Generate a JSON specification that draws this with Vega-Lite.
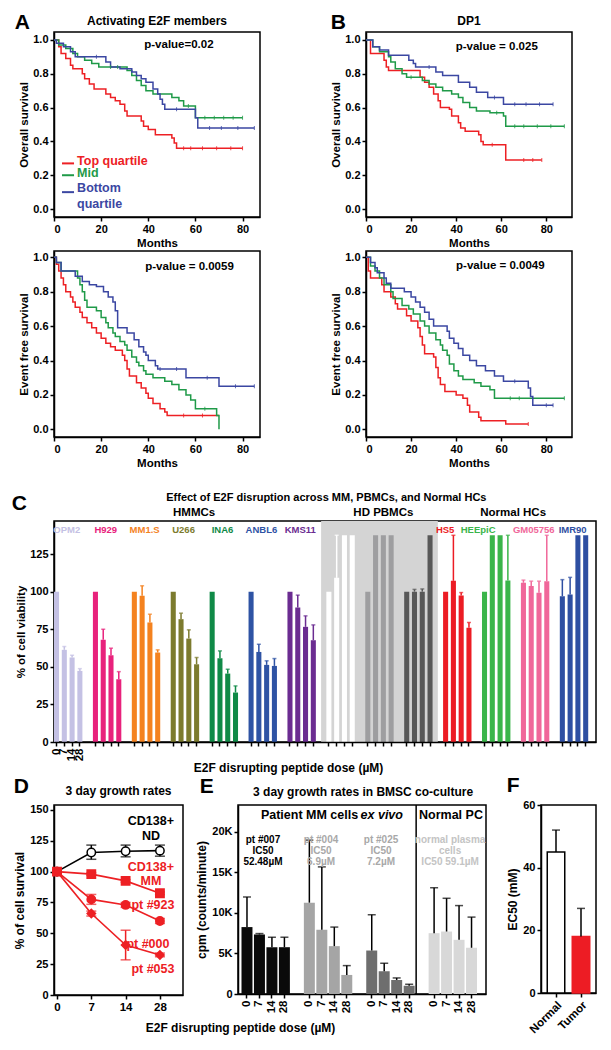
{
 "$schema": "https://vega.github.io/schema/vega-lite/v6.json",
 "padding": {"left": 10, "top": 11, "right": 5, "bottom": 2},
 "background": "white",
 "config": {
  "font": "Liberation Sans",
  "view": {"stroke": "#000", "strokeWidth": 1.5},
  "axis": {"grid": false, "labelOverlap": false, "domainColor": "#000", "domainWidth": 1.5, "tickColor": "#000", "tickWidth": 1.5, "tickSize": 4, "labelColor": "#000", "labelFontSize": 11, "labelFontWeight": "bold", "labelFont": "Liberation Sans", "titleColor": "#000", "titleFontSize": 11.5, "titleFontWeight": "bold", "titleFont": "Liberation Sans", "labelPadding": 2, "titlePadding": 3},
  "title": {"fontSize": 21, "fontWeight": "bold", "font": "Liberation Sans", "anchor": "start", "frame": "bounds", "offset": 0, "color": "#000"},
  "text": {"font": "Liberation Sans", "fontWeight": "bold", "fontSize": 11.5, "color": "#000"}
 },
 "datasets": {
  "km": [
   {"p":"A1","g":"T","t":0,"s":1},{"p":"A1","g":"T","t":2,"s":0.96},{"p":"A1","g":"T","t":3,"s":0.92},{"p":"A1","g":"T","t":5,"s":0.89},{"p":"A1","g":"T","t":7,"s":0.85},{"p":"A1","g":"T","t":8,"s":0.83},{"p":"A1","g":"T","t":12,"s":0.80},{"p":"A1","g":"T","t":13,"s":0.77},{"p":"A1","g":"T","t":15,"s":0.74},{"p":"A1","g":"T","t":17,"s":0.71},{"p":"A1","g":"T","t":22,"s":0.68},{"p":"A1","g":"T","t":24,"s":0.66},{"p":"A1","g":"T","t":26,"s":0.64},{"p":"A1","g":"T","t":28,"s":0.62},{"p":"A1","g":"T","t":30,"s":0.58},{"p":"A1","g":"T","t":31,"s":0.55},{"p":"A1","g":"T","t":37,"s":0.52},{"p":"A1","g":"T","t":38,"s":0.49},{"p":"A1","g":"T","t":40,"s":0.47},{"p":"A1","g":"T","t":43,"s":0.44},{"p":"A1","g":"T","t":50,"s":0.42},{"p":"A1","g":"T","t":51,"s":0.39},{"p":"A1","g":"T","t":52,"s":0.36},{"p":"A1","g":"T","t":80,"s":0.36},
   {"p":"A1","g":"M","t":0,"s":1},{"p":"A1","g":"M","t":2,"s":0.97},{"p":"A1","g":"M","t":5,"s":0.95},{"p":"A1","g":"M","t":8,"s":0.92},{"p":"A1","g":"M","t":10,"s":0.90},{"p":"A1","g":"M","t":13,"s":0.88},{"p":"A1","g":"M","t":16,"s":0.86},{"p":"A1","g":"M","t":19,"s":0.84},{"p":"A1","g":"M","t":31,"s":0.82},{"p":"A1","g":"M","t":33,"s":0.79},{"p":"A1","g":"M","t":35,"s":0.76},{"p":"A1","g":"M","t":37,"s":0.73},{"p":"A1","g":"M","t":39,"s":0.70},{"p":"A1","g":"M","t":42,"s":0.68},{"p":"A1","g":"M","t":50,"s":0.66},{"p":"A1","g":"M","t":53,"s":0.64},{"p":"A1","g":"M","t":55,"s":0.61},{"p":"A1","g":"M","t":60,"s":0.54},{"p":"A1","g":"M","t":80,"s":0.54},
   {"p":"A1","g":"B","t":0,"s":1},{"p":"A1","g":"B","t":1,"s":0.98},{"p":"A1","g":"B","t":4,"s":0.96},{"p":"A1","g":"B","t":7,"s":0.93},{"p":"A1","g":"B","t":9,"s":0.90},{"p":"A1","g":"B","t":22,"s":0.87},{"p":"A1","g":"B","t":24,"s":0.84},{"p":"A1","g":"B","t":28,"s":0.83},{"p":"A1","g":"B","t":33,"s":0.81},{"p":"A1","g":"B","t":35,"s":0.79},{"p":"A1","g":"B","t":37,"s":0.77},{"p":"A1","g":"B","t":39,"s":0.75},{"p":"A1","g":"B","t":42,"s":0.71},{"p":"A1","g":"B","t":44,"s":0.68},{"p":"A1","g":"B","t":45,"s":0.65},{"p":"A1","g":"B","t":46,"s":0.62},{"p":"A1","g":"B","t":47,"s":0.59},{"p":"A1","g":"B","t":59,"s":0.59},{"p":"A1","g":"B","t":60,"s":0.54},{"p":"A1","g":"B","t":61,"s":0.48},{"p":"A1","g":"B","t":85,"s":0.48},
   {"p":"A2","g":"T","t":0,"s":1},{"p":"A2","g":"T","t":1,"s":0.96},{"p":"A2","g":"T","t":2,"s":0.92},{"p":"A2","g":"T","t":3,"s":0.88},{"p":"A2","g":"T","t":4,"s":0.84},{"p":"A2","g":"T","t":5,"s":0.80},{"p":"A2","g":"T","t":7,"s":0.77},{"p":"A2","g":"T","t":8,"s":0.74},{"p":"A2","g":"T","t":9,"s":0.71},{"p":"A2","g":"T","t":11,"s":0.68},{"p":"A2","g":"T","t":12,"s":0.65},{"p":"A2","g":"T","t":14,"s":0.62},{"p":"A2","g":"T","t":16,"s":0.59},{"p":"A2","g":"T","t":18,"s":0.56},{"p":"A2","g":"T","t":20,"s":0.53},{"p":"A2","g":"T","t":22,"s":0.50},{"p":"A2","g":"T","t":24,"s":0.48},{"p":"A2","g":"T","t":26,"s":0.46},{"p":"A2","g":"T","t":29,"s":0.43},{"p":"A2","g":"T","t":30,"s":0.40},{"p":"A2","g":"T","t":31,"s":0.35},{"p":"A2","g":"T","t":32,"s":0.31},{"p":"A2","g":"T","t":35,"s":0.27},{"p":"A2","g":"T","t":37,"s":0.24},{"p":"A2","g":"T","t":39,"s":0.21},{"p":"A2","g":"T","t":40,"s":0.18},{"p":"A2","g":"T","t":42,"s":0.15},{"p":"A2","g":"T","t":45,"s":0.12},{"p":"A2","g":"T","t":47,"s":0.10},{"p":"A2","g":"T","t":48,"s":0.08},{"p":"A2","g":"T","t":70,"s":0.08},
   {"p":"A2","g":"M","t":0,"s":1},{"p":"A2","g":"M","t":1,"s":0.97},{"p":"A2","g":"M","t":3,"s":0.92},{"p":"A2","g":"M","t":10,"s":0.88},{"p":"A2","g":"M","t":11,"s":0.84},{"p":"A2","g":"M","t":12,"s":0.80},{"p":"A2","g":"M","t":13,"s":0.75},{"p":"A2","g":"M","t":14,"s":0.71},{"p":"A2","g":"M","t":18,"s":0.69},{"p":"A2","g":"M","t":20,"s":0.65},{"p":"A2","g":"M","t":22,"s":0.62},{"p":"A2","g":"M","t":23,"s":0.59},{"p":"A2","g":"M","t":25,"s":0.56},{"p":"A2","g":"M","t":26,"s":0.54},{"p":"A2","g":"M","t":28,"s":0.51},{"p":"A2","g":"M","t":30,"s":0.49},{"p":"A2","g":"M","t":31,"s":0.46},{"p":"A2","g":"M","t":33,"s":0.42},{"p":"A2","g":"M","t":35,"s":0.39},{"p":"A2","g":"M","t":36,"s":0.37},{"p":"A2","g":"M","t":38,"s":0.34},{"p":"A2","g":"M","t":39,"s":0.32},{"p":"A2","g":"M","t":42,"s":0.30},{"p":"A2","g":"M","t":47,"s":0.28},{"p":"A2","g":"M","t":50,"s":0.26},{"p":"A2","g":"M","t":53,"s":0.23},{"p":"A2","g":"M","t":56,"s":0.20},{"p":"A2","g":"M","t":58,"s":0.17},{"p":"A2","g":"M","t":60,"s":0.12},{"p":"A2","g":"M","t":69,"s":0.08},{"p":"A2","g":"M","t":70,"s":0.0},
   {"p":"A2","g":"B","t":0,"s":1},{"p":"A2","g":"B","t":1,"s":0.97},{"p":"A2","g":"B","t":3,"s":0.92},{"p":"A2","g":"B","t":9,"s":0.89},{"p":"A2","g":"B","t":12,"s":0.86},{"p":"A2","g":"B","t":15,"s":0.84},{"p":"A2","g":"B","t":18,"s":0.83},{"p":"A2","g":"B","t":21,"s":0.80},{"p":"A2","g":"B","t":23,"s":0.77},{"p":"A2","g":"B","t":25,"s":0.74},{"p":"A2","g":"B","t":26,"s":0.69},{"p":"A2","g":"B","t":27,"s":0.59},{"p":"A2","g":"B","t":31,"s":0.56},{"p":"A2","g":"B","t":34,"s":0.52},{"p":"A2","g":"B","t":36,"s":0.48},{"p":"A2","g":"B","t":38,"s":0.45},{"p":"A2","g":"B","t":39,"s":0.43},{"p":"A2","g":"B","t":40,"s":0.40},{"p":"A2","g":"B","t":43,"s":0.37},{"p":"A2","g":"B","t":44,"s":0.35},{"p":"A2","g":"B","t":56,"s":0.30},{"p":"A2","g":"B","t":70,"s":0.25},{"p":"A2","g":"B","t":85,"s":0.25},
   {"p":"B1","g":"T","t":0,"s":1},{"p":"B1","g":"T","t":2,"s":0.92},{"p":"B1","g":"T","t":8,"s":0.88},{"p":"B1","g":"T","t":9,"s":0.84},{"p":"B1","g":"T","t":10,"s":0.82},{"p":"B1","g":"T","t":24,"s":0.78},{"p":"B1","g":"T","t":26,"s":0.75},{"p":"B1","g":"T","t":28,"s":0.72},{"p":"B1","g":"T","t":30,"s":0.68},{"p":"B1","g":"T","t":32,"s":0.64},{"p":"B1","g":"T","t":33,"s":0.60},{"p":"B1","g":"T","t":37,"s":0.59},{"p":"B1","g":"T","t":38,"s":0.55},{"p":"B1","g":"T","t":41,"s":0.51},{"p":"B1","g":"T","t":42,"s":0.48},{"p":"B1","g":"T","t":44,"s":0.46},{"p":"B1","g":"T","t":50,"s":0.44},{"p":"B1","g":"T","t":51,"s":0.40},{"p":"B1","g":"T","t":52,"s":0.38},{"p":"B1","g":"T","t":62,"s":0.29},{"p":"B1","g":"T","t":78,"s":0.29},
   {"p":"B1","g":"M","t":0,"s":1},{"p":"B1","g":"M","t":3,"s":0.96},{"p":"B1","g":"M","t":6,"s":0.93},{"p":"B1","g":"M","t":10,"s":0.90},{"p":"B1","g":"M","t":11,"s":0.87},{"p":"B1","g":"M","t":13,"s":0.83},{"p":"B1","g":"M","t":16,"s":0.80},{"p":"B1","g":"M","t":18,"s":0.78},{"p":"B1","g":"M","t":25,"s":0.76},{"p":"B1","g":"M","t":28,"s":0.74},{"p":"B1","g":"M","t":31,"s":0.72},{"p":"B1","g":"M","t":34,"s":0.70},{"p":"B1","g":"M","t":38,"s":0.68},{"p":"B1","g":"M","t":41,"s":0.66},{"p":"B1","g":"M","t":43,"s":0.63},{"p":"B1","g":"M","t":46,"s":0.60},{"p":"B1","g":"M","t":49,"s":0.58},{"p":"B1","g":"M","t":55,"s":0.57},{"p":"B1","g":"M","t":61,"s":0.55},{"p":"B1","g":"M","t":62,"s":0.49},{"p":"B1","g":"M","t":88,"s":0.49},
   {"p":"B1","g":"B","t":0,"s":1},{"p":"B1","g":"B","t":3,"s":0.96},{"p":"B1","g":"B","t":6,"s":0.94},{"p":"B1","g":"B","t":10,"s":0.91},{"p":"B1","g":"B","t":19,"s":0.88},{"p":"B1","g":"B","t":21,"s":0.86},{"p":"B1","g":"B","t":22,"s":0.84},{"p":"B1","g":"B","t":31,"s":0.81},{"p":"B1","g":"B","t":34,"s":0.79},{"p":"B1","g":"B","t":41,"s":0.75},{"p":"B1","g":"B","t":46,"s":0.72},{"p":"B1","g":"B","t":49,"s":0.69},{"p":"B1","g":"B","t":54,"s":0.66},{"p":"B1","g":"B","t":61,"s":0.62},{"p":"B1","g":"B","t":83,"s":0.62},
   {"p":"B2","g":"T","t":0,"s":1},{"p":"B2","g":"T","t":1,"s":0.92},{"p":"B2","g":"T","t":2,"s":0.88},{"p":"B2","g":"T","t":7,"s":0.84},{"p":"B2","g":"T","t":8,"s":0.80},{"p":"B2","g":"T","t":11,"s":0.77},{"p":"B2","g":"T","t":13,"s":0.73},{"p":"B2","g":"T","t":14,"s":0.70},{"p":"B2","g":"T","t":18,"s":0.66},{"p":"B2","g":"T","t":20,"s":0.63},{"p":"B2","g":"T","t":23,"s":0.59},{"p":"B2","g":"T","t":24,"s":0.54},{"p":"B2","g":"T","t":25,"s":0.49},{"p":"B2","g":"T","t":26,"s":0.44},{"p":"B2","g":"T","t":30,"s":0.42},{"p":"B2","g":"T","t":31,"s":0.36},{"p":"B2","g":"T","t":32,"s":0.30},{"p":"B2","g":"T","t":33,"s":0.26},{"p":"B2","g":"T","t":35,"s":0.22},{"p":"B2","g":"T","t":40,"s":0.20},{"p":"B2","g":"T","t":43,"s":0.18},{"p":"B2","g":"T","t":45,"s":0.14},{"p":"B2","g":"T","t":46,"s":0.10},{"p":"B2","g":"T","t":50,"s":0.07},{"p":"B2","g":"T","t":51,"s":0.05},{"p":"B2","g":"T","t":62,"s":0.03},{"p":"B2","g":"T","t":72,"s":0.03},
   {"p":"B2","g":"M","t":0,"s":1},{"p":"B2","g":"M","t":2,"s":0.95},{"p":"B2","g":"M","t":4,"s":0.92},{"p":"B2","g":"M","t":6,"s":0.88},{"p":"B2","g":"M","t":8,"s":0.84},{"p":"B2","g":"M","t":11,"s":0.80},{"p":"B2","g":"M","t":12,"s":0.76},{"p":"B2","g":"M","t":16,"s":0.72},{"p":"B2","g":"M","t":19,"s":0.70},{"p":"B2","g":"M","t":21,"s":0.67},{"p":"B2","g":"M","t":24,"s":0.63},{"p":"B2","g":"M","t":26,"s":0.60},{"p":"B2","g":"M","t":28,"s":0.56},{"p":"B2","g":"M","t":31,"s":0.52},{"p":"B2","g":"M","t":33,"s":0.49},{"p":"B2","g":"M","t":34,"s":0.46},{"p":"B2","g":"M","t":36,"s":0.43},{"p":"B2","g":"M","t":37,"s":0.38},{"p":"B2","g":"M","t":39,"s":0.34},{"p":"B2","g":"M","t":41,"s":0.31},{"p":"B2","g":"M","t":43,"s":0.29},{"p":"B2","g":"M","t":48,"s":0.27},{"p":"B2","g":"M","t":51,"s":0.25},{"p":"B2","g":"M","t":55,"s":0.23},{"p":"B2","g":"M","t":57,"s":0.18},{"p":"B2","g":"M","t":88,"s":0.18},
   {"p":"B2","g":"B","t":0,"s":1},{"p":"B2","g":"B","t":2,"s":0.97},{"p":"B2","g":"B","t":4,"s":0.94},{"p":"B2","g":"B","t":5,"s":0.91},{"p":"B2","g":"B","t":8,"s":0.88},{"p":"B2","g":"B","t":9,"s":0.85},{"p":"B2","g":"B","t":11,"s":0.82},{"p":"B2","g":"B","t":17,"s":0.80},{"p":"B2","g":"B","t":20,"s":0.77},{"p":"B2","g":"B","t":22,"s":0.74},{"p":"B2","g":"B","t":24,"s":0.71},{"p":"B2","g":"B","t":26,"s":0.68},{"p":"B2","g":"B","t":28,"s":0.64},{"p":"B2","g":"B","t":30,"s":0.60},{"p":"B2","g":"B","t":36,"s":0.57},{"p":"B2","g":"B","t":37,"s":0.53},{"p":"B2","g":"B","t":39,"s":0.50},{"p":"B2","g":"B","t":41,"s":0.47},{"p":"B2","g":"B","t":43,"s":0.43},{"p":"B2","g":"B","t":46,"s":0.40},{"p":"B2","g":"B","t":49,"s":0.37},{"p":"B2","g":"B","t":53,"s":0.34},{"p":"B2","g":"B","t":57,"s":0.31},{"p":"B2","g":"B","t":61,"s":0.28},{"p":"B2","g":"B","t":72,"s":0.24},{"p":"B2","g":"B","t":73,"s":0.19},{"p":"B2","g":"B","t":74,"s":0.14},{"p":"B2","g":"B","t":83,"s":0.14}
  ],
  "cens": [
   {"p":"A1","g":"T","t":55,"s":0.36},{"p":"A1","g":"T","t":58,"s":0.36},{"p":"A1","g":"T","t":63,"s":0.36},{"p":"A1","g":"T","t":69,"s":0.36},{"p":"A1","g":"T","t":75,"s":0.36},{"p":"A1","g":"T","t":80,"s":0.36},
   {"p":"A1","g":"M","t":24,"s":0.84},{"p":"A1","g":"M","t":27,"s":0.84},{"p":"A1","g":"M","t":57,"s":0.61},{"p":"A1","g":"M","t":64,"s":0.54},{"p":"A1","g":"M","t":68,"s":0.54},{"p":"A1","g":"M","t":72,"s":0.54},{"p":"A1","g":"M","t":76,"s":0.54},{"p":"A1","g":"M","t":80,"s":0.54},
   {"p":"A1","g":"B","t":18,"s":0.90},{"p":"A1","g":"B","t":52,"s":0.59},{"p":"A1","g":"B","t":66,"s":0.48},{"p":"A1","g":"B","t":71,"s":0.48},{"p":"A1","g":"B","t":78,"s":0.48},{"p":"A1","g":"B","t":85,"s":0.48},
   {"p":"A2","g":"T","t":55,"s":0.08},{"p":"A2","g":"T","t":63,"s":0.08},
   {"p":"A2","g":"M","t":64,"s":0.12},
   {"p":"A2","g":"B","t":45,"s":0.35},{"p":"A2","g":"B","t":52,"s":0.35},{"p":"A2","g":"B","t":65,"s":0.30},{"p":"A2","g":"B","t":77,"s":0.25},{"p":"A2","g":"B","t":85,"s":0.25},
   {"p":"B1","g":"T","t":56,"s":0.38},{"p":"B1","g":"T","t":70,"s":0.29},{"p":"B1","g":"T","t":74,"s":0.29},{"p":"B1","g":"T","t":78,"s":0.29},
   {"p":"B1","g":"M","t":20,"s":0.78},{"p":"B1","g":"M","t":58,"s":0.57},{"p":"B1","g":"M","t":66,"s":0.49},{"p":"B1","g":"M","t":70,"s":0.49},{"p":"B1","g":"M","t":76,"s":0.49},{"p":"B1","g":"M","t":82,"s":0.49},{"p":"B1","g":"M","t":88,"s":0.49},
   {"p":"B1","g":"B","t":28,"s":0.84},{"p":"B1","g":"B","t":57,"s":0.66},{"p":"B1","g":"B","t":66,"s":0.62},{"p":"B1","g":"B","t":71,"s":0.62},{"p":"B1","g":"B","t":77,"s":0.62},{"p":"B1","g":"B","t":83,"s":0.62},
   {"p":"B2","g":"T","t":72,"s":0.03},
   {"p":"B2","g":"M","t":64,"s":0.18},{"p":"B2","g":"M","t":68,"s":0.18},{"p":"B2","g":"M","t":88,"s":0.18},
   {"p":"B2","g":"B","t":66,"s":0.28},{"p":"B2","g":"B","t":80,"s":0.14},{"p":"B2","g":"B","t":83,"s":0.14}
  ],
  "cbars": [
   {"slot":"OPM2|0","g":"OPM2","v":100,"hi":null},{"slot":"OPM2|7","g":"OPM2","v":61.3,"hi":63.5},{"slot":"OPM2|14","g":"OPM2","v":56.2,"hi":57.7},{"slot":"OPM2|28","g":"OPM2","v":47.3,"hi":48.8},
   {"slot":"H929|0","g":"H929","v":100,"hi":null},{"slot":"H929|7","g":"H929","v":68,"hi":75},{"slot":"H929|14","g":"H929","v":57.7,"hi":62.4},{"slot":"H929|28","g":"H929","v":41.7,"hi":46.8},
   {"slot":"MM1.S|0","g":"MM1.S","v":100,"hi":null},{"slot":"MM1.S|7","g":"MM1.S","v":97.2,"hi":103.9},{"slot":"MM1.S|14","g":"MM1.S","v":79.5,"hi":85},{"slot":"MM1.S|28","g":"MM1.S","v":59.5,"hi":61.3},
   {"slot":"U266|0","g":"U266","v":100,"hi":null},{"slot":"U266|7","g":"U266","v":81.7,"hi":85.7},{"slot":"U266|14","g":"U266","v":68.8,"hi":74.6},{"slot":"U266|28","g":"U266","v":51.7,"hi":56.2},
   {"slot":"INA6|0","g":"INA6","v":100,"hi":null},{"slot":"INA6|7","g":"INA6","v":55.7,"hi":60.6},{"slot":"INA6|14","g":"INA6","v":45.5,"hi":48.4},{"slot":"INA6|28","g":"INA6","v":32.9,"hi":37.3},
   {"slot":"ANBL6|0","g":"ANBL6","v":100,"hi":null},{"slot":"ANBL6|7","g":"ANBL6","v":59.9,"hi":65},{"slot":"ANBL6|14","g":"ANBL6","v":51.3,"hi":54},{"slot":"ANBL6|28","g":"ANBL6","v":50.6,"hi":55.5},
   {"slot":"KMS11|0","g":"KMS11","v":100,"hi":null},{"slot":"KMS11|7","g":"KMS11","v":89.5,"hi":97.7},{"slot":"KMS11|14","g":"KMS11","v":76.6,"hi":83.9},{"slot":"KMS11|28","g":"KMS11","v":67.7,"hi":77.9},
   {"slot":"PBMC1|0","g":"PBMC1","v":100,"hi":null},{"slot":"PBMC1|7","g":"PBMC1","v":109.2,"hi":137.5},{"slot":"PBMC1|14","g":"PBMC1","v":137.5,"hi":null},{"slot":"PBMC1|28","g":"PBMC1","v":137.5,"hi":null},
   {"slot":"PBMC2|0","g":"PBMC2","v":100,"hi":null},{"slot":"PBMC2|7","g":"PBMC2","v":137.5,"hi":null},{"slot":"PBMC2|14","g":"PBMC2","v":137.5,"hi":null},{"slot":"PBMC2|28","g":"PBMC2","v":137.5,"hi":null},
   {"slot":"PBMC3|0","g":"PBMC3","v":100,"hi":null},{"slot":"PBMC3|7","g":"PBMC3","v":100,"hi":101.5},{"slot":"PBMC3|14","g":"PBMC3","v":100,"hi":101.8},{"slot":"PBMC3|28","g":"PBMC3","v":137.5,"hi":null},
   {"slot":"HS5|0","g":"HS5","v":100,"hi":null},{"slot":"HS5|7","g":"HS5","v":107.2,"hi":137.5},{"slot":"HS5|14","g":"HS5","v":97.5,"hi":99.4},{"slot":"HS5|28","g":"HS5","v":76,"hi":79.5},
   {"slot":"HEEpiC|0","g":"HEEpiC","v":100,"hi":null},{"slot":"HEEpiC|7","g":"HEEpiC","v":137.5,"hi":null},{"slot":"HEEpiC|14","g":"HEEpiC","v":137.5,"hi":null},{"slot":"HEEpiC|28","g":"HEEpiC","v":107.5,"hi":137.5},
   {"slot":"GM05756|0","g":"GM05756","v":105.9,"hi":107.7},{"slot":"GM05756|7","g":"GM05756","v":103.7,"hi":107},{"slot":"GM05756|14","g":"GM05756","v":99.2,"hi":107},{"slot":"GM05756|28","g":"GM05756","v":107,"hi":137.5},
   {"slot":"IMR90|0","g":"IMR90","v":97,"hi":108},{"slot":"IMR90|7","g":"IMR90","v":98.1,"hi":109.5},{"slot":"IMR90|14","g":"IMR90","v":137.5,"hi":null},{"slot":"IMR90|28","g":"IMR90","v":137.5,"hi":null}
  ],
  "dlines": [
   {"s":"ND","x":"0","v":100,"lo":100,"hi":100},{"s":"ND","x":"7","v":115.5,"lo":110,"hi":121.5},{"s":"ND","x":"14","v":116.5,"lo":112,"hi":121.5},{"s":"ND","x":"28","v":117,"lo":112.5,"hi":121.5},
   {"s":"MM","x":"0","v":100,"lo":99,"hi":101},{"s":"MM","x":"7","v":98,"lo":97,"hi":99},{"s":"MM","x":"14","v":92.5,"lo":91.5,"hi":93.5},{"s":"MM","x":"28","v":82.5,"lo":81.5,"hi":83.5},
   {"s":"923","x":"0","v":100,"lo":99,"hi":101},{"s":"923","x":"7","v":77.5,"lo":73.5,"hi":81.5},{"s":"923","x":"14","v":73,"lo":71,"hi":75},{"s":"923","x":"28","v":60,"lo":58,"hi":62},
   {"s":"053","x":"0","v":100,"lo":99,"hi":101},{"s":"053","x":"7","v":66,"lo":64,"hi":68},{"s":"053","x":"14","v":40.5,"lo":28.5,"hi":52.5},{"s":"053","x":"28","v":32.5,"lo":31,"hi":34}
  ],
  "ebars": [
   {"slot":"007|0","grp":"007","v":8250,"hi":11960},{"slot":"007|7","grp":"007","v":7340,"hi":7450},{"slot":"007|14","grp":"007","v":5770,"hi":7000},{"slot":"007|28","grp":"007","v":5770,"hi":7000},
   {"slot":"004|0","grp":"004","v":11260,"hi":18970},{"slot":"004|7","grp":"004","v":7920,"hi":15670},{"slot":"004|14","grp":"004","v":5900,"hi":8250},{"slot":"004|28","grp":"004","v":2350,"hi":3500},
   {"slot":"025|0","grp":"025","v":5360,"hi":9770},{"slot":"025|7","grp":"025","v":2800,"hi":3790},{"slot":"025|14","grp":"025","v":1730,"hi":1980},{"slot":"025|28","grp":"025","v":1030,"hi":1200},
   {"slot":"N|0","grp":"N","v":7500,"hi":13100},{"slot":"N|7","grp":"N","v":7700,"hi":11800},{"slot":"N|14","grp":"N","v":6680,"hi":10900},{"slot":"N|28","grp":"N","v":5700,"hi":9480}
  ],
  "fbars": [
   {"c":"Normal","v":45,"hi":52},{"c":"Tumor","v":18,"hi":27}
  ]
 },
 "concat": [
  {
   "concat": [
    {
     "width": 206, "height": 185,
     "title": {"text": "A", "dx": -4, "offset": -18},
     "layer": [
      {"data": {"name": "km"}, "transform": [{"filter": "datum.p=='A1'"}], "mark": {"type": "line", "interpolate": "step-after", "strokeWidth": 1.5},
       "encoding": {"x": {"field": "t", "type": "quantitative", "scale": {"domain": [0, 87.4], "nice": false}, "axis": {"values": [0, 20, 40, 60, 80], "tickCount": 10, "title": "Months"}},
        "y": {"field": "s", "type": "quantitative", "scale": {"domain": [-0.047, 1.047], "nice": false}, "axis": {"values": [0, 0.2, 0.4, 0.6, 0.8, 1], "tickCount": 10, "format": ".1f", "title": "Overall survival"}},
        "color": {"field": "g", "type": "nominal", "scale": {"domain": ["T", "M", "B"], "range": ["#ed2024", "#1f9a48", "#3b47a2"]}, "legend": null}}},
      {"data": {"name": "cens"}, "transform": [{"filter": "datum.p=='A1'"}], "mark": {"type": "tick", "orient": "vertical", "size": 4, "thickness": 1, "opacity": 0.8},
       "encoding": {"x": {"field": "t", "type": "quantitative"}, "y": {"field": "s", "type": "quantitative"}, "color": {"field": "g", "type": "nominal", "legend": null}}},
      {"data": {"values": [{}]}, "mark": {"type": "text", "text": "Activating E2F members", "fontSize": 12}, "encoding": {"x": {"datum": 43.7}, "y": {"datum": 1.112}}},
      {"data": {"values": [{}]}, "mark": {"type": "text", "text": "p-value=0.02"}, "encoding": {"x": {"datum": 53}, "y": {"datum": 0.97}}},
      {"data": {"values": [{}]}, "mark": {"type": "rule", "color": "#ed2024", "strokeWidth": 2}, "encoding": {"x": {"datum": 3.4}, "x2": {"datum": 8.5}, "y": {"datum": 0.27}}},
      {"data": {"values": [{}]}, "mark": {"type": "rule", "color": "#1f9a48", "strokeWidth": 2}, "encoding": {"x": {"datum": 3.4}, "x2": {"datum": 8.5}, "y": {"datum": 0.2}}},
      {"data": {"values": [{}]}, "mark": {"type": "rule", "color": "#3b47a2", "strokeWidth": 2}, "encoding": {"x": {"datum": 3.4}, "x2": {"datum": 8.5}, "y": {"datum": 0.1}}},
      {"data": {"values": [{}]}, "mark": {"type": "text", "text": "Top quartile", "align": "left", "color": "#ed2024", "fontSize": 12.5}, "encoding": {"x": {"datum": 9.8}, "y": {"datum": 0.285}}},
      {"data": {"values": [{}]}, "mark": {"type": "text", "text": "Mid", "align": "left", "color": "#1f9a48", "fontSize": 12.5}, "encoding": {"x": {"datum": 9.8}, "y": {"datum": 0.213}}},
      {"data": {"values": [{}]}, "mark": {"type": "text", "text": "Bottom", "align": "left", "color": "#3b47a2", "fontSize": 12.5}, "encoding": {"x": {"datum": 9.8}, "y": {"datum": 0.124}}},
      {"data": {"values": [{}]}, "mark": {"type": "text", "text": "quartile", "align": "left", "color": "#3b47a2", "fontSize": 12.5}, "encoding": {"x": {"datum": 9.8}, "y": {"datum": 0.032}}}
     ]
    },
    {
     "width": 206, "height": 185,
     "title": {"text": "B", "dx": 0, "offset": -18},
     "layer": [
      {"data": {"name": "km"}, "transform": [{"filter": "datum.p=='B1'"}], "mark": {"type": "line", "interpolate": "step-after", "strokeWidth": 1.5},
       "encoding": {"x": {"field": "t", "type": "quantitative", "scale": {"domain": [0, 91.4], "nice": false}, "axis": {"values": [0, 20, 40, 60, 80], "tickCount": 10, "title": "Months"}},
        "y": {"field": "s", "type": "quantitative", "scale": {"domain": [-0.047, 1.047], "nice": false}, "axis": {"values": [0, 0.2, 0.4, 0.6, 0.8, 1], "tickCount": 10, "format": ".1f", "title": "Overall survival"}},
        "color": {"field": "g", "type": "nominal", "scale": {"domain": ["T", "M", "B"], "range": ["#ed2024", "#1f9a48", "#3b47a2"]}, "legend": null}}},
      {"data": {"name": "cens"}, "transform": [{"filter": "datum.p=='B1'"}], "mark": {"type": "tick", "orient": "vertical", "size": 4, "thickness": 1, "opacity": 0.8},
       "encoding": {"x": {"field": "t", "type": "quantitative"}, "y": {"field": "s", "type": "quantitative"}, "color": {"field": "g", "type": "nominal", "legend": null}}},
      {"data": {"values": [{}]}, "mark": {"type": "text", "text": "DP1", "fontSize": 12}, "encoding": {"x": {"datum": 45.7}, "y": {"datum": 1.112}}},
      {"data": {"values": [{}]}, "mark": {"type": "text", "text": "p-value = 0.025"}, "encoding": {"x": {"datum": 58}, "y": {"datum": 0.96}}}
     ]
    },
    {
     "width": 206, "height": 186,
     "layer": [
      {"data": {"name": "km"}, "transform": [{"filter": "datum.p=='A2'"}], "mark": {"type": "line", "interpolate": "step-after", "strokeWidth": 1.5},
       "encoding": {"x": {"field": "t", "type": "quantitative", "scale": {"domain": [0, 87.4], "nice": false}, "axis": {"values": [0, 20, 40, 60, 80], "tickCount": 10, "title": "Months"}},
        "y": {"field": "s", "type": "quantitative", "scale": {"domain": [-0.045, 1.037], "nice": false}, "axis": {"values": [0, 0.2, 0.4, 0.6, 0.8, 1], "tickCount": 10, "format": ".1f", "title": "Event free survival"}},
        "color": {"field": "g", "type": "nominal", "scale": {"domain": ["T", "M", "B"], "range": ["#ed2024", "#1f9a48", "#3b47a2"]}, "legend": null}}},
      {"data": {"name": "cens"}, "transform": [{"filter": "datum.p=='A2'"}], "mark": {"type": "tick", "orient": "vertical", "size": 4, "thickness": 1, "opacity": 0.8},
       "encoding": {"x": {"field": "t", "type": "quantitative"}, "y": {"field": "s", "type": "quantitative"}, "color": {"field": "g", "type": "nominal", "legend": null}}},
      {"data": {"values": [{}]}, "mark": {"type": "text", "text": "p-value = 0.0059"}, "encoding": {"x": {"datum": 57.5}, "y": {"datum": 0.946}}}
     ]
    },
    {
     "width": 206, "height": 186,
     "layer": [
      {"data": {"name": "km"}, "transform": [{"filter": "datum.p=='B2'"}], "mark": {"type": "line", "interpolate": "step-after", "strokeWidth": 1.5},
       "encoding": {"x": {"field": "t", "type": "quantitative", "scale": {"domain": [0, 91.4], "nice": false}, "axis": {"values": [0, 20, 40, 60, 80], "tickCount": 10, "title": "Months"}},
        "y": {"field": "s", "type": "quantitative", "scale": {"domain": [-0.045, 1.037], "nice": false}, "axis": {"values": [0, 0.2, 0.4, 0.6, 0.8, 1], "tickCount": 10, "format": ".1f", "title": "Event free survival"}},
        "color": {"field": "g", "type": "nominal", "scale": {"domain": ["T", "M", "B"], "range": ["#ed2024", "#1f9a48", "#3b47a2"]}, "legend": null}}},
      {"data": {"name": "cens"}, "transform": [{"filter": "datum.p=='B2'"}], "mark": {"type": "tick", "orient": "vertical", "size": 4, "thickness": 1, "opacity": 0.8},
       "encoding": {"x": {"field": "t", "type": "quantitative"}, "y": {"field": "s", "type": "quantitative"}, "color": {"field": "g", "type": "nominal", "legend": null}}},
      {"data": {"values": [{}]}, "mark": {"type": "text", "text": "p-value = 0.0049"}, "encoding": {"x": {"datum": 59.6}, "y": {"datum": 0.95}}}
     ]
    }
   ],
   "columns": 2,
   "bounds": "flush",
   "spacing": {"row": 34, "column": 106}
  },
  {
   "concat": [
    {
     "width": 542, "height": 221,
     "title": {"text": "C", "dx": -4, "offset": -22},
     "layer": [
      {"data": {"values": [{}]}, "mark": {"type": "rect", "color": "#d4d4d4"}, "encoding": {"x": {"datum": "KMS11|gap", "bandPosition": 0.5}, "x2": {"datum": "PBMC3|gap"}, "y": {"datum": 0}, "y2": {"datum": 147}}},
      {"data": {"name": "cbars"}, "mark": {"type": "bar"},
       "encoding": {
        "x": {"field": "slot", "type": "nominal", "sort": null,
         "scale": {"domain": ["OPM2|0","OPM2|7","OPM2|14","OPM2|28","OPM2|gap","H929|0","H929|7","H929|14","H929|28","H929|gap","MM1.S|0","MM1.S|7","MM1.S|14","MM1.S|28","MM1.S|gap","U266|0","U266|7","U266|14","U266|28","U266|gap","INA6|0","INA6|7","INA6|14","INA6|28","INA6|gap","ANBL6|0","ANBL6|7","ANBL6|14","ANBL6|28","ANBL6|gap","KMS11|0","KMS11|7","KMS11|14","KMS11|28","KMS11|gap","PBMC1|0","PBMC1|7","PBMC1|14","PBMC1|28","PBMC1|gap","PBMC2|0","PBMC2|7","PBMC2|14","PBMC2|28","PBMC2|gap","PBMC3|0","PBMC3|7","PBMC3|14","PBMC3|28","PBMC3|gap","HS5|0","HS5|7","HS5|14","HS5|28","HS5|gap","HEEpiC|0","HEEpiC|7","HEEpiC|14","HEEpiC|28","HEEpiC|gap","GM05756|0","GM05756|7","GM05756|14","GM05756|28","GM05756|gap","IMR90|0","IMR90|7","IMR90|14","IMR90|28","IMR90|gap"], "paddingInner": 0.35, "paddingOuter": 0},
         "axis": {"values": ["OPM2|0","OPM2|7","OPM2|14","OPM2|28","H929|0","H929|7","H929|14","H929|28","MM1.S|0","MM1.S|7","MM1.S|14","MM1.S|28","U266|0","U266|7","U266|14","U266|28","INA6|0","INA6|7","INA6|14","INA6|28","ANBL6|0","ANBL6|7","ANBL6|14","ANBL6|28","KMS11|0","KMS11|7","KMS11|14","KMS11|28","PBMC1|0","PBMC1|7","PBMC1|14","PBMC1|28","PBMC2|0","PBMC2|7","PBMC2|14","PBMC2|28","PBMC3|0","PBMC3|7","PBMC3|14","PBMC3|28","HS5|0","HS5|7","HS5|14","HS5|28","HEEpiC|0","HEEpiC|7","HEEpiC|14","HEEpiC|28","GM05756|0","GM05756|7","GM05756|14","GM05756|28","IMR90|0","IMR90|7","IMR90|14","IMR90|28"],
          "labelExpr": "indexof(datum.value,'OPM2|')==0 ? split(datum.value,'|')[1] : ''", "labelAngle": 270, "labelFontSize": 11.5, "title": "E2F disrupting peptide dose (µM)", "titleX": 234, "titleY": 20, "titleFontSize": 12}},
        "y": {"field": "v", "type": "quantitative", "scale": {"domain": [0, 147], "nice": false}, "axis": {"values": [0, 25, 50, 75, 100, 125], "tickCount": 10, "title": "% of cell viability"}},
        "color": {"field": "g", "type": "nominal", "scale": {"domain": ["OPM2","H929","MM1.S","U266","INA6","ANBL6","KMS11","PBMC1","PBMC2","PBMC3","HS5","HEEpiC","GM05756","IMR90"], "range": ["#c4c1e4","#e8227c","#f4821f","#7c7b2e","#108a47","#2e53a4","#6b2c91","#ffffff","#9e9ea0","#585858","#ec1c24","#3ab54a","#f0679a","#2e4fa2"]}, "legend": null}
       }},
      {"data": {"name": "cbars"}, "transform": [{"filter": "isValid(datum.hi)"}], "mark": {"type": "rule", "strokeWidth": 1.5},
       "encoding": {"x": {"field": "slot", "type": "nominal"}, "y": {"field": "v", "type": "quantitative"}, "y2": {"field": "hi"}, "color": {"field": "g", "type": "nominal", "legend": null}}},
      {"data": {"name": "cbars"}, "transform": [{"filter": "isValid(datum.hi)"}], "mark": {"type": "tick", "size": 4, "thickness": 1.5},
       "encoding": {"x": {"field": "slot", "type": "nominal"}, "y": {"field": "hi", "type": "quantitative"}, "color": {"field": "g", "type": "nominal", "legend": null}}},
      {"data": {"name": "cbars"}, "transform": [{"filter": "indexof(datum.slot,'|7')>0 && indexof(datum.g,'PBMC')<0 && datum.g!='HS5' && datum.g!='HEEpiC'"}], "mark": {"type": "text", "fontSize": 9.5},
       "encoding": {"x": {"field": "slot", "type": "nominal", "bandPosition": 1}, "y": {"datum": 141.3}, "text": {"field": "g"}, "color": {"field": "g", "type": "nominal", "legend": null}}},
      {"data": {"values": [{}]}, "mark": {"type": "text", "text": "HS5", "fontSize": 9.5, "color": "#ec1c24"}, "encoding": {"x": {"datum": "HS5|0", "bandPosition": 0.4}, "y": {"datum": 141.3}}},
      {"data": {"values": [{}]}, "mark": {"type": "text", "text": "HEEpiC", "fontSize": 9.5, "color": "#3ab54a"}, "encoding": {"x": {"datum": "HS5|gap", "bandPosition": 0.77}, "y": {"datum": 141.3}}},
      {"data": {"values": [{}]}, "mark": {"type": "text", "text": "Effect of E2F disruption across MM, PBMCs, and Normal HCs", "fontSize": 11}, "encoding": {"x": {"datum": "PBMC1|0", "bandPosition": 0}, "y": {"datum": 162.5}}},
      {"data": {"values": [{}]}, "mark": {"type": "text", "text": "HMMCs", "fontSize": 11.5}, "encoding": {"x": {"datum": "U266|28", "bandPosition": 0}, "y": {"datum": 152.5}}},
      {"data": {"values": [{}]}, "mark": {"type": "text", "text": "HD PBMCs", "fontSize": 11.5}, "encoding": {"x": {"datum": "PBMC2|14", "bandPosition": 0.5}, "y": {"datum": 152.5}}},
      {"data": {"values": [{}]}, "mark": {"type": "text", "text": "Normal HCs", "fontSize": 11.5}, "encoding": {"x": {"datum": "HEEpiC|gap", "bandPosition": 0}, "y": {"datum": 152.5}}}
     ]
    },
    {
     "hconcat": [
      {
       "width": 129, "height": 190,
       "title": {"text": "D", "offset": -12},
       "data": {"name": "dlines"},
       "layer": [
        {"mark": {"type": "line", "strokeWidth": 1.6},
         "encoding": {"x": {"field": "x", "type": "ordinal", "sort": null, "scale": {"type": "point", "domain": ["0", "7", "14", "28"], "padding": 0.38, "align": 0.115}, "axis": {"labelAngle": 0, "labelFontSize": 11.5, "title": "E2F disrupting peptide dose (µM)", "titleX": 186, "titleY": 27, "titleFontSize": 12}},
          "y": {"field": "v", "type": "quantitative", "scale": {"domain": [0, 154], "nice": false}, "axis": {"values": [0, 25, 50, 75, 100, 125, 150], "tickCount": 10, "title": "% of cell survival", "titleFontSize": 12}},
          "stroke": {"field": "s", "type": "nominal", "scale": {"domain": ["ND", "MM", "923", "053"], "range": ["#000000", "#ed2024", "#ed2024", "#ed2024"]}, "legend": null}}},
        {"mark": {"type": "rule", "strokeWidth": 1.5},
         "encoding": {"x": {"field": "x", "type": "ordinal"}, "y": {"field": "lo", "type": "quantitative"}, "y2": {"field": "hi"}, "stroke": {"field": "s", "type": "nominal", "legend": null}}},
        {"mark": {"type": "tick", "size": 10, "thickness": 1.5},
         "encoding": {"x": {"field": "x", "type": "ordinal"}, "y": {"field": "lo", "type": "quantitative"}, "color": {"field": "s", "type": "nominal", "scale": {"domain": ["ND", "MM", "923", "053"], "range": ["#000000", "#ed2024", "#ed2024", "#ed2024"]}, "legend": null}}},
        {"mark": {"type": "tick", "size": 10, "thickness": 1.5},
         "encoding": {"x": {"field": "x", "type": "ordinal"}, "y": {"field": "hi", "type": "quantitative"}, "color": {"field": "s", "type": "nominal", "legend": null}}},
        {"mark": {"type": "point", "filled": true, "size": 70, "strokeWidth": 1.5, "opacity": 1},
         "encoding": {"x": {"field": "x", "type": "ordinal"}, "y": {"field": "v", "type": "quantitative"},
          "shape": {"field": "s", "type": "nominal", "scale": {"domain": ["ND", "MM", "923", "053"], "range": ["circle", "square", "circle", "diamond"]}, "legend": null},
          "fill": {"field": "s", "type": "nominal", "scale": {"domain": ["ND", "MM", "923", "053"], "range": ["#ffffff", "#ed2024", "#ed2024", "#ed2024"]}, "legend": null},
          "stroke": {"field": "s", "type": "nominal", "legend": null}}},
        {"data": {"values": [{}]}, "mark": {"type": "text", "text": "3 day growth rates", "fontSize": 12}, "encoding": {"y": {"datum": 165}}},
        {"data": {"values": [{}]}, "mark": {"type": "text", "text": "CD138+", "fontSize": 12.5, "dx": -9}, "encoding": {"x": {"datum": "28"}, "y": {"datum": 141}}},
        {"data": {"values": [{}]}, "mark": {"type": "text", "text": "ND", "fontSize": 12.5, "dx": -9}, "encoding": {"x": {"datum": "28"}, "y": {"datum": 129}}},
        {"data": {"values": [{}]}, "mark": {"type": "text", "text": "CD138+", "fontSize": 12.5, "dx": -9, "color": "#ed2024"}, "encoding": {"x": {"datum": "28"}, "y": {"datum": 104}}},
        {"data": {"values": [{}]}, "mark": {"type": "text", "text": "MM", "fontSize": 12.5, "dx": -9, "color": "#ed2024"}, "encoding": {"x": {"datum": "28"}, "y": {"datum": 92}}},
        {"data": {"values": [{}]}, "mark": {"type": "text", "text": "pt #923", "fontSize": 12.5, "dx": -7, "color": "#ed2024"}, "encoding": {"x": {"datum": "28"}, "y": {"datum": 72.7}}},
        {"data": {"values": [{}]}, "mark": {"type": "text", "text": "pt #000", "fontSize": 12.5, "dx": -12, "color": "#ed2024"}, "encoding": {"x": {"datum": "28"}, "y": {"datum": 41.7}}},
        {"data": {"values": [{}]}, "mark": {"type": "text", "text": "pt #053", "fontSize": 12.5, "dx": -7, "color": "#ed2024"}, "encoding": {"x": {"datum": "28"}, "y": {"datum": 20.7}}}
       ]
      },
      {
       "width": 248, "height": 189,
       "title": {"text": "E", "dx": 4, "offset": -11},
       "layer": [
        {"data": {"name": "ebars"}, "mark": {"type": "bar"},
         "encoding": {
          "x": {"field": "slot", "type": "nominal", "sort": null,
           "scale": {"domain": ["007|0","007|7","007|14","007|28","g1","004|0","004|7","004|14","004|28","g2","025|0","025|7","025|14","025|28","g3","N|0","N|7","N|14","N|28"], "paddingInner": 0.12, "paddingOuter": 0.5, "align": 0.28},
           "axis": {"values": ["007|0","007|7","007|14","007|28","004|0","004|7","004|14","004|28","025|0","025|7","025|14","025|28","N|0","N|7","N|14","N|28"], "labelExpr": "split(datum.value,'|')[1]", "labelAngle": 270, "labelFontSize": 11.5, "title": null}},
          "y": {"field": "v", "type": "quantitative", "scale": {"domain": [0, 23300], "nice": false}, "axis": {"values": [0, 5000, 10000, 15000, 20000], "tickCount": 10, "labelExpr": "datum.value==0 ? '0' : (datum.value/1000)+'K'", "title": "cpm (counts/minute)", "titleFontSize": 12}},
          "color": {"field": "grp", "type": "nominal", "scale": {"domain": ["007", "004", "025", "N"], "range": ["#0a0a0a", "#a5a5a5", "#6e6e6e", "#d8d8d8"]}, "legend": null}
         }},
        {"data": {"name": "ebars"}, "mark": {"type": "rule", "strokeWidth": 1.5, "color": "#000"},
         "encoding": {"x": {"field": "slot", "type": "nominal"}, "y": {"field": "v", "type": "quantitative"}, "y2": {"field": "hi"}}},
        {"data": {"name": "ebars"}, "mark": {"type": "tick", "size": 8, "thickness": 1.5, "color": "#000"},
         "encoding": {"x": {"field": "slot", "type": "nominal"}, "y": {"field": "hi", "type": "quantitative"}}},
        {"data": {"values": [{}]}, "mark": {"type": "rule", "strokeWidth": 1.5, "color": "#000"}, "encoding": {"x": {"datum": "g3", "bandPosition": 0}}},
        {"data": {"values": [{}]}, "mark": {"type": "text", "text": "3 day growth rates in BMSC co-culture", "fontSize": 12}, "encoding": {"x": {"datum": "g2", "bandPosition": 0.85}, "y": {"datum": 24900}}},
        {"data": {"values": [{}]}, "mark": {"type": "text", "text": "Patient MM cells", "fontSize": 12.5, "align": "right"}, "encoding": {"x": {"datum": "g2", "bandPosition": 0.4}, "y": {"datum": 22050}}},
        {"data": {"values": [{}]}, "mark": {"type": "text", "text": "ex vivo", "fontSize": 12.5, "align": "left", "fontStyle": "italic"}, "encoding": {"x": {"datum": "g2", "bandPosition": 0.62}, "y": {"datum": 22050}}},
        {"data": {"values": [{}]}, "mark": {"type": "text", "text": "Normal PC", "fontSize": 12.5}, "encoding": {"x": {"datum": "N|7", "bandPosition": 0.9}, "y": {"datum": 22050}}},
        {"data": {"values": [{}]}, "mark": {"type": "text", "text": ["pt #007", "IC50", "52.48µM"], "fontSize": 10, "lineHeight": 11, "color": "#000"}, "encoding": {"x": {"datum": "007|7", "bandPosition": 0.82}, "y": {"datum": 19000}}},
        {"data": {"values": [{}]}, "mark": {"type": "text", "text": ["pt #004", "IC50", "6.9µM"], "fontSize": 10, "lineHeight": 11, "color": "#a8a8a8"}, "encoding": {"x": {"datum": "004|7", "bandPosition": 0.43}, "y": {"datum": 19000}}},
        {"data": {"values": [{}]}, "mark": {"type": "text", "text": ["pt #025", "IC50", "7.2µM"], "fontSize": 10, "lineHeight": 11, "color": "#a8a8a8"}, "encoding": {"x": {"datum": "025|7", "bandPosition": 0.21}, "y": {"datum": 19000}}},
        {"data": {"values": [{}]}, "mark": {"type": "text", "text": ["normal plasma", "cells", "IC50 59.1µM"], "fontSize": 10, "lineHeight": 11, "color": "#c4c4c4"}, "encoding": {"x": {"datum": "N|7", "bandPosition": 0.82}, "y": {"datum": 19000}}}
       ]
      },
      {
       "width": 55, "height": 188,
       "title": {"text": "F", "offset": 3},
       "data": {"name": "fbars"},
       "layer": [
        {"mark": {"type": "bar", "strokeWidth": 1.5},
         "encoding": {"x": {"field": "c", "type": "nominal", "sort": null, "scale": {"paddingInner": 0.3, "paddingOuter": 0.25}, "axis": {"labelAngle": 315, "labelFontSize": 11.5, "title": null}},
          "y": {"field": "v", "type": "quantitative", "scale": {"domain": [0, 60], "nice": false}, "axis": {"values": [0, 20, 40, 60], "tickCount": 10, "title": "EC50 (mM)", "titleFontSize": 12}},
          "fill": {"field": "c", "type": "nominal", "scale": {"domain": ["Normal", "Tumor"], "range": ["#ffffff", "#ed1c24"]}, "legend": null},
          "stroke": {"field": "c", "type": "nominal", "scale": {"domain": ["Normal", "Tumor"], "range": ["#000000", "#ed1c24"]}, "legend": null}}},
        {"mark": {"type": "rule", "strokeWidth": 1.5, "color": "#000"}, "encoding": {"x": {"field": "c", "type": "nominal"}, "y": {"field": "v", "type": "quantitative"}, "y2": {"field": "hi"}}},
        {"mark": {"type": "tick", "size": 8, "thickness": 1.5, "color": "#000"}, "encoding": {"x": {"field": "c", "type": "nominal"}, "y": {"field": "hi", "type": "quantitative"}}}
       ]
      }
     ],
     "bounds": "flush",
     "spacing": 55,
     "resolve": {"scale": {"color": "independent", "fill": "independent", "stroke": "independent", "shape": "independent"}}
    }
   ],
   "columns": 1,
   "align": "none",
   "spacing": 0,
   "resolve": {"scale": {"color": "independent", "fill": "independent", "stroke": "independent", "shape": "independent"}}
  }
 ],
 "columns": 1,
 "align": "none",
 "spacing": 20,
 "resolve": {"scale": {"color": "independent", "fill": "independent", "stroke": "independent", "shape": "independent"}}
}
